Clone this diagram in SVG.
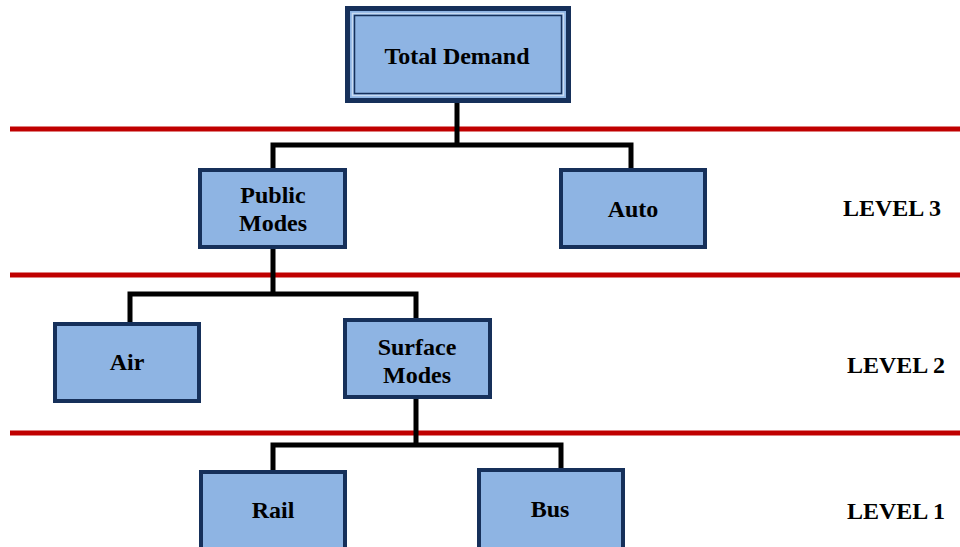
<svg xmlns="http://www.w3.org/2000/svg" width="960" height="547" viewBox="0 0 960 547">
<style>
.box{fill:#8EB4E3;stroke:#16305A;stroke-width:4}
.lbl{font-family:"Liberation Serif","Times New Roman",serif;font-weight:bold;font-size:24px;fill:#000;text-anchor:middle}
.lvl{font-family:"Liberation Serif","Times New Roman",serif;font-weight:bold;font-size:24px;fill:#000}
.red{stroke:#C00000;stroke-width:5}
.con{fill:none;stroke:#000;stroke-width:5;stroke-linejoin:miter}
</style>
<rect width="960" height="547" fill="#fff"/>
<g id="levels">
<line class="red" x1="10" y1="129" x2="960" y2="129"/>
<line class="red" x1="10" y1="275" x2="960" y2="275"/>
<line class="red" x1="10" y1="433" x2="960" y2="433"/>
<text class="lvl" x="843" y="216">LEVEL 3</text>
<text class="lvl" x="847" y="373">LEVEL 2</text>
<text class="lvl" x="847" y="519">LEVEL 1</text>
</g>
<g id="connectors">
<path class="con" d="M457,102 V145 M273,168 V145 H631 V168"/>
<path class="con" d="M273,248 V294 M130,322 V294 H416 V318"/>
<path class="con" d="M416,398 V445 M273,470 V445 H561 V468"/>
</g>
<g id="total-demand">
<rect x="347.5" y="8.5" width="221" height="92" fill="#8EB4E3" stroke="#16305A" stroke-width="5"/>
<rect x="352.5" y="13.5" width="211" height="82" fill="none" stroke="#C9DBF2" stroke-width="1.5"/>
<rect x="354.5" y="15.5" width="207" height="78" fill="none" stroke="#16305A" stroke-width="1.5"/>
<text class="lbl" x="457" y="64">Total Demand</text>
</g>
<g id="public-modes">
<rect class="box" x="200" y="170" width="145" height="77"/>
<text class="lbl" x="273" y="203">Public</text>
<text class="lbl" x="273" y="231">Modes</text>
</g>
<g id="auto">
<rect class="box" x="561" y="170" width="144" height="77"/>
<text class="lbl" x="633" y="217">Auto</text>
</g>
<g id="air">
<rect class="box" x="55" y="324" width="144" height="77"/>
<text class="lbl" x="127" y="370">Air</text>
</g>
<g id="surface-modes">
<rect class="box" x="345" y="320" width="145" height="77"/>
<text class="lbl" x="417" y="355">Surface</text>
<text class="lbl" x="417" y="383">Modes</text>
</g>
<g id="rail">
<rect class="box" x="201" y="472" width="144" height="80"/>
<text class="lbl" x="273" y="518">Rail</text>
</g>
<g id="bus">
<rect class="box" x="479" y="470" width="144" height="82"/>
<text class="lbl" x="550" y="517">Bus</text>
</g>
</svg>
